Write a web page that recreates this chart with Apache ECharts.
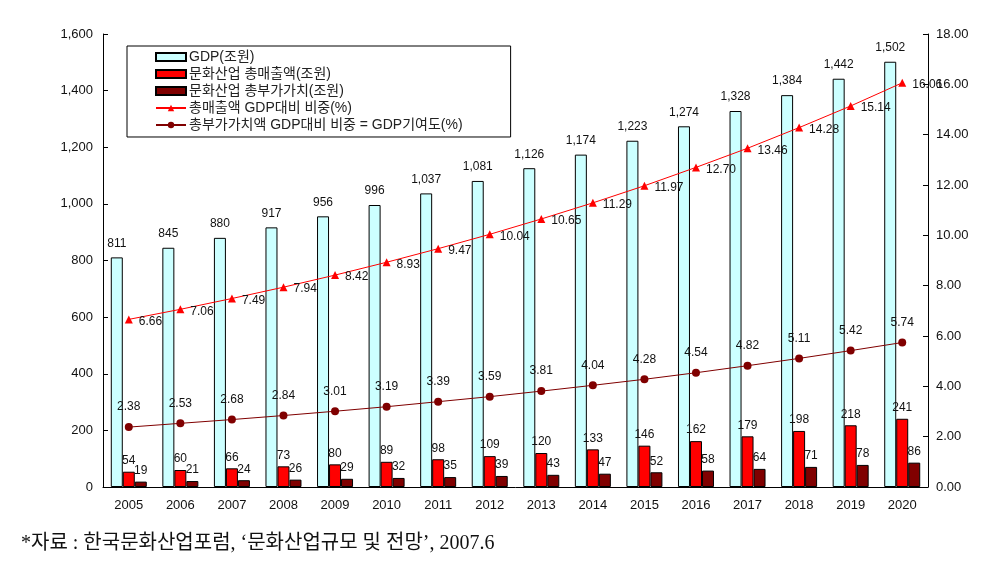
<!DOCTYPE html>
<html><head><meta charset="utf-8">
<script src="https://cdn.jsdelivr.net/npm/echarts@6/dist/echarts.min.js"></script>
<style>html,body{margin:0;padding:0;background:#fff}#c{width:995px;height:568px}</style>
</head><body><div id="c"></div>
<script>
const years = ['2005','2006','2007','2008','2009','2010','2011','2012','2013','2014','2015','2016','2017','2018','2019','2020'];
const gdp = [811,845,880,917,956,996,1037,1081,1126,1174,1223,1274,1328,1384,1442,1502];
const sales = [54,60,66,73,80,89,98,109,120,133,146,162,179,198,218,241];
const valueAdded = [19,21,24,26,29,32,35,39,43,47,52,58,64,71,78,86];
const salesPct = [6.66,7.06,7.49,7.94,8.42,8.93,9.47,10.04,10.65,11.29,11.97,12.70,13.46,14.28,15.14,16.06];
const vaPct = [2.38,2.53,2.68,2.84,3.01,3.19,3.39,3.59,3.81,4.04,4.28,4.54,4.82,5.11,5.42,5.74];
const names = ['GDP(조원)','문화산업 총매출액(조원)','문화산업 총부가가치(조원)','총매출액 GDP대비 비중(%)','총부가가치액 GDP대비 비중 = GDP기여도(%)'];
const footnote = '*자료 : 한국문화산업포럼, ‘문화산업규모 및 전망’, 2007.6';

const fmtComma = v => String(v).replace(/\B(?=(\d{3})+(?!\d))/g, ',');
const FONT = 'Liberation Sans, Arial, Noto Sans CJK KR, sans-serif';
const lbl = {color:'#111', fontSize:12, fontFamily:FONT};

const chart = echarts.init(document.getElementById('c'), null, {renderer:'canvas'});
chart.setOption({
  animation:false,
  backgroundColor:'#fff',
  textStyle:{fontFamily:FONT},
  title:{text:footnote, left:16, top:529,
    textStyle:{fontFamily:'Liberation Serif, Noto Sans CJK KR, serif', fontSize:20, fontWeight:'normal', color:'#111'}},
  legend:{
    orient:'vertical', left:127, top:46,
    data:[
      {name:names[0], icon:'rect'},
      {name:names[1], icon:'rect'},
      {name:names[2], icon:'rect'},
      {name:names[3]},
      {name:names[4]}
    ],
    backgroundColor:'#fff', borderColor:'#000', borderWidth:1, borderRadius:0,
    padding:[4,48,5,28], itemGap:3, itemWidth:30, itemHeight:8,
    textStyle:{fontSize:14, color:'#222', fontFamily:FONT, padding:[0,0,0,-2]}
  },
  grid:{left:103, right:67, top:34, bottom:81},
  xAxis:{type:'category', data:years,
    axisLine:{lineStyle:{color:'#000'}},
    axisTick:{inside:true, length:4, lineStyle:{color:'#000'}},
    axisLabel:{color:'#111', fontSize:13, margin:12}},
  yAxis:[
    {type:'value', min:0, max:1600, interval:200,
      axisLine:{show:true, lineStyle:{color:'#000'}},
      axisTick:{show:true, inside:true, length:5, lineStyle:{color:'#000'}},
      axisLabel:{color:'#111', fontSize:13, margin:10, formatter:v=>fmtComma(v)},
      splitLine:{show:false}},
    {type:'value', min:0, max:18, interval:2,
      axisLine:{show:true, lineStyle:{color:'#000'}},
      axisTick:{show:true, inside:true, length:5, lineStyle:{color:'#000'}},
      axisLabel:{color:'#111', fontSize:13, margin:8, formatter:v=>v.toFixed(2)},
      splitLine:{show:false}}
  ],
  series:[
    {name:names[0], type:'bar', data:gdp, barWidth:12, barGap:'0%',
      itemStyle:{color:'#ccffff', borderColor:'#000', borderWidth:1},
      label:{show:true, position:'top', distance:8, ...lbl, formatter:p=>fmtComma(p.value)}},
    {name:names[1], type:'bar', data:sales, barWidth:12, barGap:'0%',
      itemStyle:{color:'#ff0000', borderColor:'#000', borderWidth:1},
      label:{show:true, position:'top', distance:5, ...lbl}},
    {name:names[2], type:'bar', data:valueAdded, barWidth:12, barGap:'0%',
      itemStyle:{color:'#800000', borderColor:'#000', borderWidth:1},
      label:{show:true, position:'top', distance:5, ...lbl}},
    {name:names[3], type:'line', yAxisIndex:1, data:salesPct,
      symbol:'triangle', symbolSize:8, lineStyle:{color:'#ff0000', width:1},
      itemStyle:{color:'#ff0000'},
      label:{show:true, position:'right', distance:6, offset:[0,2], ...lbl, formatter:p=>p.value.toFixed(2)}},
    {name:names[4], type:'line', yAxisIndex:1, data:vaPct,
      symbol:'circle', symbolSize:8, lineStyle:{color:'#800000', width:1},
      itemStyle:{color:'#800000'},
      label:{show:true, position:'top', distance:10, ...lbl, formatter:p=>p.value.toFixed(2)}}
  ]
});
</script></body></html>
